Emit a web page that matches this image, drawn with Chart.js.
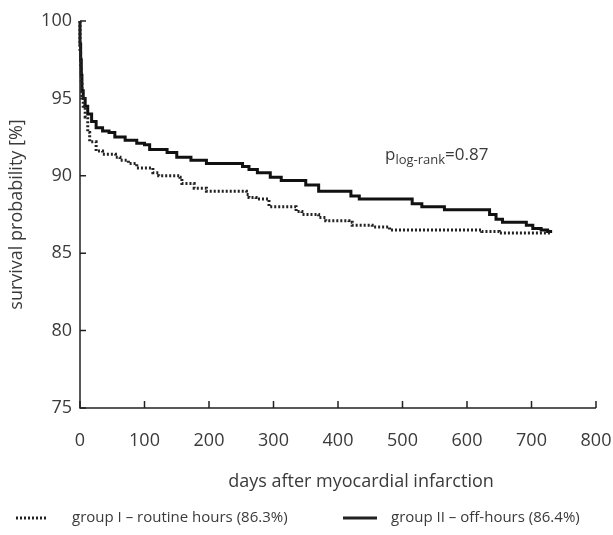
<!DOCTYPE html>
<html>
<head>
<meta charset="utf-8">
<script src="https://cdn.jsdelivr.net/npm/chart.js@4.4.1/dist/chart.umd.min.js"></script>
<style>
  html, body { margin: 0; padding: 0; background: #fff; }
  #wrap { width: 613px; height: 535px; }
</style>
</head>
<body>
<div id="wrap"><canvas id="km" width="613" height="535"></canvas></div>
<script>
// Kaplan-Meier curves (step starts: day, survival %)
const routineDays = [0, 1, 2, 3, 5, 8, 12, 15, 25, 35, 55, 62, 75, 88, 113, 122, 155, 158, 177, 196, 258, 262, 273, 293, 335, 344, 370, 381, 417, 422, 453, 480, 623, 650, 654, 730];
const routineSurv = [100, 98, 97, 96, 95, 94.5, 93.8, 92.8, 92.2, 91.6, 91.4, 91.2, 91.0, 90.8, 90.5, 90.2, 90.0, 89.9, 89.5, 89.2, 89.0, 88.8, 88.6, 88.5, 88.0, 87.7, 87.5, 87.3, 87.1, 87.0, 86.8, 86.7, 86.5, 86.4, 86.3, 86.3];

const offDays = [0, 1, 2, 3, 5, 8, 12, 18, 25, 35, 45, 54, 70, 88, 100, 108, 135, 150, 172, 196, 252, 262, 275, 295, 312, 350, 370, 420, 433, 515, 530, 565, 635, 645, 655, 692, 702, 715, 725, 732];
const offSurv = [100, 98.5, 97.5, 96.5, 95.5, 95, 94.5, 94, 93.5, 93.1, 92.9, 92.8, 92.5, 92.3, 92.1, 92.0, 91.7, 91.5, 91.2, 91.0, 90.8, 90.6, 90.4, 90.2, 89.9, 89.7, 89.4, 89.0, 88.7, 88.5, 88.2, 88.0, 87.8, 87.5, 87.2, 87.0, 86.8, 86.6, 86.5, 86.4];

const xTicks = [0, 100, 200, 300, 400, 500, 600, 700, 800];
const yTicks = [75, 80, 85, 90, 95, 100];

const legendLabels = ['group I \u2013 routine hours (86.3%)', 'group II \u2013 off-hours (86.4%)'];

const FONT = '"Open Sans", "DejaVu Sans", sans-serif';
const TXT = '#3a3a3a';

const toPoints = (xs, ys) => xs.map((d, i) => ({ x: d, y: ys[i] }));

// axes with inward ticks, x title, p-value, legend
const decor = {
  id: 'decor',
  afterDraw(chart) {
    const ctx = chart.ctx;
    const xs = chart.scales.x, ys = chart.scales.y;
    const a = chart.chartArea;
    ctx.save();
    ctx.strokeStyle = '#222';
    ctx.lineWidth = 1.5;
    ctx.beginPath();
    ctx.moveTo(a.left, a.top);
    ctx.lineTo(a.left, a.bottom);
    ctx.lineTo(a.right, a.bottom);
    ctx.stroke();
    ctx.beginPath();
    xTicks.forEach(v => {
      const px = xs.getPixelForValue(v);
      ctx.moveTo(px, a.bottom);
      ctx.lineTo(px, a.bottom - 7);
    });
    yTicks.forEach(v => {
      const py = ys.getPixelForValue(v);
      ctx.moveTo(a.left, py);
      ctx.lineTo(a.left + 6, py);
    });
    ctx.stroke();

    // x title
    ctx.fillStyle = TXT;
    ctx.font = '18px ' + FONT;
    ctx.textAlign = 'center';
    ctx.textBaseline = 'middle';
    ctx.fillText('days after myocardial infarction', 361, 482);

    // p log-rank
    ctx.textAlign = 'left';
    ctx.textBaseline = 'alphabetic';
    ctx.font = '17px ' + FONT;
    ctx.fillText('p', 385, 160);
    let x = 385 + ctx.measureText('p').width;
    ctx.font = '13px ' + FONT;
    ctx.fillText('log-rank', x, 164);
    x += ctx.measureText('log-rank').width;
    ctx.font = '17px ' + FONT;
    ctx.fillText('=0.87', x, 160);

    // legend
    const ly = 518;
    ctx.strokeStyle = '#222';
    ctx.lineWidth = 3;
    ctx.setLineDash([2, 2]);
    ctx.beginPath();
    ctx.moveTo(16, ly);
    ctx.lineTo(48, ly);
    ctx.stroke();
    ctx.setLineDash([]);
    ctx.beginPath();
    ctx.moveTo(343, ly);
    ctx.lineTo(377, ly);
    ctx.stroke();
    ctx.font = '15px ' + FONT;
    ctx.textBaseline = 'middle';
    ctx.fillText(legendLabels[0], 72, ly);
    ctx.fillText(legendLabels[1], 391, ly);
    ctx.restore();
  }
};

new Chart(document.getElementById('km'), {
  type: 'line',
  data: {
    datasets: [
      {
        label: legendLabels[0],
        data: toPoints(routineDays, routineSurv),
        borderColor: '#222',
        borderWidth: 3,
        borderDash: [2, 2],
        stepped: 'after',
        pointRadius: 0,
        fill: false
      },
      {
        label: legendLabels[1],
        data: toPoints(offDays, offSurv),
        borderColor: '#111',
        borderWidth: 3,
        stepped: 'after',
        pointRadius: 0,
        fill: false
      }
    ]
  },
  options: {
    responsive: false,
    animation: false,
    clip: false,
    layout: { padding: { top: 21, right: 17, bottom: 0, left: 0 } },
    plugins: { legend: { display: false }, tooltip: { enabled: false } },
    scales: {
      x: {
        type: 'linear',
        min: 0,
        max: 800,
        afterFit: s => { s.height = 127; s.paddingRight = 0; s.paddingLeft = 0; },
        afterBuildTicks: s => { s.ticks = xTicks.map(v => ({ value: v })); },
        grid: { display: false, drawTicks: false },
        border: { display: false },
        ticks: { color: TXT, font: { family: FONT, size: 18 }, padding: 22, maxRotation: 0 }
      },
      y: {
        min: 75,
        max: 100,
        afterFit: s => { s.width = 80; },
        afterBuildTicks: s => { s.ticks = yTicks.map(v => ({ value: v })); },
        grid: { display: false, drawTicks: false },
        border: { display: false },
        ticks: { color: TXT, font: { family: FONT, size: 18 }, padding: 8 },
        title: {
          display: true,
          text: 'survival probability [%]',
          color: TXT,
          font: { family: FONT, size: 18 },
          padding: { top: 6, bottom: 0 }
        }
      }
    }
  },
  plugins: [decor]
});
</script>
</body>
</html>
